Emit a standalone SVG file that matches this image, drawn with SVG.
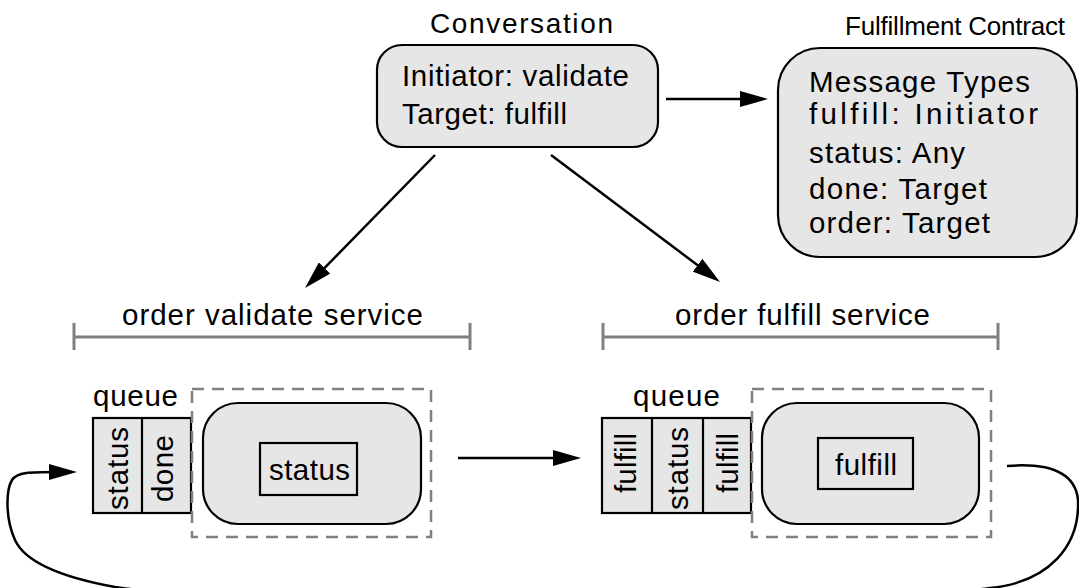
<svg xmlns="http://www.w3.org/2000/svg" width="1079" height="588" viewBox="0 0 1079 588">
<style>
text{font-family:"Liberation Sans",Arial,sans-serif;fill:#000}
.t{font-size:28px}
.b{font-size:29.5px}
.box{fill:#e6e6e6;stroke:#000;stroke-width:2.2}
.dash{fill:none;stroke:#808080;stroke-width:2.5;stroke-dasharray:12 8}
.br{fill:none;stroke:#808080;stroke-width:3}
.conn{fill:none;stroke:#000;stroke-width:2.5}
</style>
<defs>
<marker id="ah" markerUnits="userSpaceOnUse" markerWidth="28" markerHeight="16" refX="8" refY="8" orient="auto">
<path d="M0,0 L28,8 L0,16 z" fill="#000"/>
</marker>
</defs>
<g id="conversation">
<text class="t" x="430" y="33" textLength="183">Conversation</text>
<rect class="box" x="377" y="45" width="281" height="102" rx="25"/>
<text class="b" x="402" y="86" textLength="227">Initiator: validate</text>
<text class="b" x="402" y="124" textLength="165">Target: fulfill</text>
</g>
<g id="contract">
<text x="845" y="35" style="font-size:26px" textLength="220">Fulfillment Contract</text>
<rect class="box" x="778" y="48" width="299" height="209" rx="42"/>
<text class="b" x="809" y="92" textLength="221">Message Types</text>
<text class="b" x="809" y="124" textLength="229">fulfill: Initiator</text>
<text class="b" x="809" y="163" textLength="156">status: Any</text>
<text class="b" x="809" y="199" textLength="178">done: Target</text>
<text class="b" x="809" y="233" textLength="181">order: Target</text>
</g>
<g id="validate-service">
<text class="b" x="122" y="325" textLength="301">order validate service</text>
<path class="br" d="M74,337 H470 M74,323 V350 M470,323 V350"/>
<text class="b" x="93" y="406" textLength="85">queue</text>
<rect class="box" x="93" y="418" width="98" height="95"/>
<line x1="142" y1="418" x2="142" y2="513" stroke="#000" stroke-width="2.2"/>
<text class="b" transform="translate(128,468.5) rotate(-90)" text-anchor="middle" textLength="83">status</text>
<text class="b" transform="translate(173,468.5) rotate(-90)" text-anchor="middle" textLength="67">done</text>
<rect class="dash" x="192" y="389" width="239" height="148"/>
<rect class="box" x="203" y="403" width="218" height="121" rx="35"/>
<rect x="260" y="443" width="97" height="52" fill="none" stroke="#000" stroke-width="2.2"/>
<text class="b" x="269" y="480" textLength="81">status</text>
</g>
<g id="fulfill-service">
<text class="b" x="675" y="325" textLength="255">order fulfill service</text>
<path class="br" d="M603,337 H998 M603,323 V350 M998,323 V350"/>
<text class="b" x="633" y="406" textLength="87">queue</text>
<rect class="box" x="602" y="418" width="149" height="95"/>
<path d="M652,418 V513 M703,418 V513" stroke="#000" stroke-width="2.2"/>
<text class="b" transform="translate(636,463) rotate(-90)" text-anchor="middle" textLength="60">fulfill</text>
<text class="b" transform="translate(688,468.5) rotate(-90)" text-anchor="middle" textLength="83">status</text>
<text class="b" transform="translate(738,463) rotate(-90)" text-anchor="middle" textLength="60">fulfill</text>
<rect class="dash" x="752" y="389" width="239" height="148"/>
<rect class="box" x="762" y="403" width="217" height="121" rx="35"/>
<rect x="818" y="438" width="95" height="51" fill="none" stroke="#000" stroke-width="2.2"/>
<text class="b" x="835" y="475" textLength="62">fulfill</text>
</g>
<g id="connectors">
<line class="conn" x1="666" y1="99" x2="748" y2="99" marker-end="url(#ah)"/>
<line class="conn" x1="435" y1="155" x2="319" y2="273.7" marker-end="url(#ah)"/>
<line class="conn" x1="551" y1="155" x2="704" y2="270" marker-end="url(#ah)"/>
<line class="conn" x1="458" y1="458" x2="561" y2="458" marker-end="url(#ah)"/>
<path class="conn" d="M1007,466 C1045,463 1075,470 1078,500 C1080,545 1050,582 990,588 C700,625 400,625 115,587 C60,577 25,562 15,540 C5,518 6,490 12,480 C17,472 30,472 57,472" marker-end="url(#ah)"/>
</g>
</svg>
